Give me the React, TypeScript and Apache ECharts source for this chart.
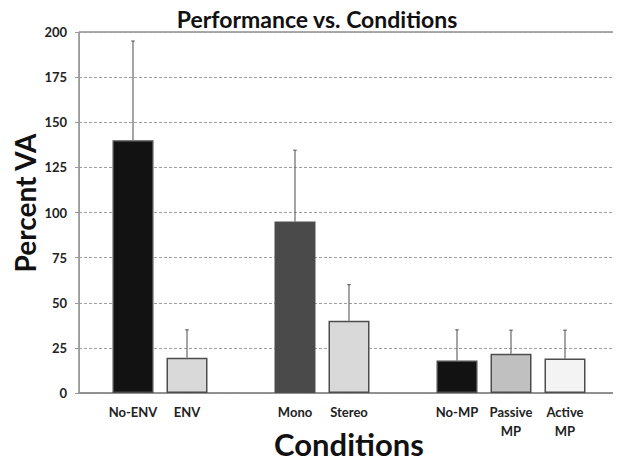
import React, { useEffect, useRef } from "react";
import * as echarts from "echarts";

const categories = ["", "No-ENV", "ENV", "", "Mono", "Stereo", "", "No-MP", "Passive\nMP", "Active\nMP", ""];
const means = [null, 140, 19.5, null, 95, 40, null, 18, 21.7, 19.1, null];
const errorTops = [null, 195, 35, null, 134.5, 60, null, 35, 34.8, 34.8, null];
const barColors = ["", "#121212", "#d9d9d9", "", "#4a4a4a", "#d9d9d9", "", "#121212", "#c0c0c0", "#f3f3f3", ""];
const yTicks = [0, 25, 50, 75, 100, 125, 150, 175, 200];

const FONT = "Lato";

export default function App() {
  const ref = useRef<HTMLDivElement>(null);
  useEffect(() => {
    if (!ref.current) return;
    const chart = echarts.init(ref.current, null, { renderer: "svg" });
    const barData = means.map((v, i) =>
      v === null
        ? "-"
        : {
            value: v,
            itemStyle: { color: barColors[i], borderColor: "#4d4d4d", borderWidth: 1.5 },
          }
    );
    const errData: any[] = [];
    means.forEach((v, i) => {
      if (v !== null && errorTops[i] !== null) errData.push([i, v, errorTops[i]]);
    });
    chart.setOption({
      animation: false,
      backgroundColor: "#ffffff",
      title: {
        text: "Performance vs. Conditions",
        left: 312,
        textAlign: "center",
        top: 2,
        textStyle: { fontFamily: FONT, fontWeight: "bold", fontSize: 23, color: "#111" },
      },
      grid: {
        left: 79,
        right: 2,
        top: 32,
        bottom: 70,
        outerBoundsMode: "none",
        containLabel: false,
        show: true,
        borderColor: "#555",
        borderWidth: 1,
        backgroundColor: "transparent",
      },
      xAxis: {
        type: "category",
        data: categories,
        boundaryGap: false,
        name: "Conditions",
        nameLocation: "middle",
        nameGap: 35,
        nameMoveOverlap: false,
        nameTextStyle: { fontFamily: FONT, fontWeight: "bold", fontSize: 31, color: "#111" },
        axisLine: { lineStyle: { color: "#8a8a8a", width: 1.5 } },
        axisTick: { show: false },
        axisLabel: {
          interval: 0,
          margin: 9,
          fontFamily: FONT,
          fontWeight: "bold",
          fontSize: 13,
          color: "#222",
          lineHeight: 19,
        },
        splitLine: { show: false },
      },
      yAxis: {
        type: "value",
        min: 0,
        max: 200,
        interval: 25,
        name: "Percent VA",
        nameLocation: "middle",
        nameGap: 40,
        nameMoveOverlap: false,
        nameTextStyle: {
          fontFamily: FONT,
          fontWeight: "bold",
          fontSize: 28,
          color: "#111",
          padding: [0, 0, 0, 19],
        },
        axisLine: { show: true, lineStyle: { color: "#9a9a9a", width: 1 } },
        axisTick: { show: true, length: 4, lineStyle: { color: "#9a9a9a" } },
        axisLabel: {
          margin: 12,
          fontFamily: FONT,
          fontWeight: "bold",
          fontSize: 13,
          color: "#222",
          formatter: (v: number) => (yTicks.includes(v) ? String(v) : ""),
        },
        splitLine: { show: true, lineStyle: { type: [3, 2], color: "#a0a0a0", width: 1 } },
      },
      series: [
        {
          type: "bar",
          data: barData,
          barWidth: 41,
          z: 2,
        },
        {
          type: "custom",
          z: 3,
          data: errData,
          encode: { x: 0, y: 2 },
          renderItem: (params: any, api: any) => {
            const idx = api.value(0);
            const base = api.coord([idx, api.value(1)]);
            const top = api.coord([idx, api.value(2)]);
            const style = { stroke: "#5a5a5a", lineWidth: 1.1 };
            return {
              type: "group",
              children: [
                { type: "line", shape: { x1: top[0], y1: base[1], x2: top[0], y2: top[1] }, style },
                { type: "line", shape: { x1: top[0] - 1.8, y1: top[1], x2: top[0] + 1.8, y2: top[1] }, style },
              ],
            };
          },
        },
      ],
    });
    return () => chart.dispose();
  }, []);
  return <div ref={ref} style={{ width: 621, height: 463, marginLeft: -8, marginTop: -8 }} />;
}
